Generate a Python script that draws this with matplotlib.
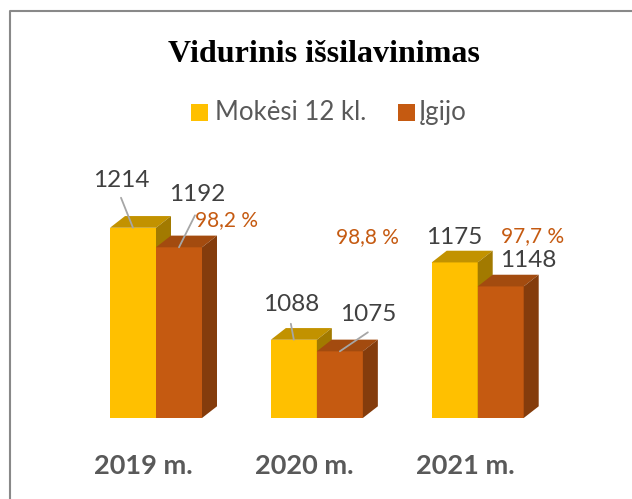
import matplotlib.pyplot as plt
from matplotlib.patches import Polygon, Rectangle
from matplotlib.lines import Line2D
import numpy as np

########### DATA ###########
years = ["2019 m.", "2020 m.", "2021 m."]
baigusieji = [1214, 1088, 1175]   # Mokėsi 12 kl.
igijo = [1192, 1075, 1148]        # Įgijo
series_names = ["Mokėsi 12 kl.", "Įgijo"]
############################

FONT = "Lato"
YELLOW = ("#FFC000", "#C29200", "#A27A00")   # front, top, side
ORANGE = ("#C55A11", "#A34B0F", "#843C0C")
VAL_COLOR = "#404040"
PCT_COLOR = "#C55A11"
GREY = "#595959"

W_PX, H_PX = 632, 499
fig = plt.figure(figsize=(W_PX / 100, H_PX / 100), dpi=100)

# axes placement (pixels) and scales
PX_CAT, X0_PX = 160.85, 156.0     # pixels per category, pixel of category 0
PX_VAL, Y0_PX = 0.889, 418.0      # pixels per unit, pixel of the floor
YMIN = 1000
ax_l, ax_r, ax_t = 20, 620, 80
ax = fig.add_axes([ax_l / W_PX, (H_PX - Y0_PX) / H_PX,
                   (ax_r - ax_l) / W_PX, (Y0_PX - ax_t) / H_PX])
ax.set_xlim((ax_l - X0_PX) / PX_CAT, (ax_r - X0_PX) / PX_CAT)
ax.set_ylim(YMIN, YMIN + (Y0_PX - ax_t) / PX_VAL)
ax.axis("off")

x = np.arange(len(years))
w = 46 / PX_CAT
dx = 15 / PX_CAT
dy = 11.7 / PX_VAL


def draw_box(xc, v, cols):
    x0, x1 = xc - w / 2, xc + w / 2
    ax.bar(xc, v - YMIN, width=w, bottom=YMIN, color=cols[0], zorder=2)
    ax.add_patch(Polygon([(x0, v), (x1, v), (x1 + dx, v + dy), (x0 + dx, v + dy)],
                         closed=True, fc=cols[1], ec="none", zorder=2))
    ax.add_patch(Polygon([(x1, YMIN), (x1, v), (x1 + dx, v + dy), (x1 + dx, YMIN + dy)],
                         closed=True, fc=cols[2], ec="none", zorder=2))


for i in range(len(years)):
    draw_box(x[i] - w / 2, baigusieji[i], YELLOW)
    draw_box(x[i] + w / 2, igijo[i], ORANGE)

# label offsets in pixels (x, baseline above bar top)
off_a = [(-12, 40.5), (-3, 28.6), (0, 18.7)]
off_b = [(18, 46), (28, 30), (28, 19)]
off_p = [(48, 21), (28, 108.7), (32, 44.3)]
lead_a = [(-12, 30), (-3, 16), None]
lead_b = [(16, 32), (28, 19), None]

for i in range(len(years)):
    xa, xb = x[i] - w / 2, x[i] + w / 2
    ax.annotate(str(baigusieji[i]), (xa, baigusieji[i]), xytext=off_a[i],
                textcoords="offset pixels", ha="center", va="baseline",
                fontsize=17.5, family=FONT, color=VAL_COLOR)
    ax.annotate(str(igijo[i]), (xb, igijo[i]), xytext=off_b[i],
                textcoords="offset pixels", ha="center", va="baseline",
                fontsize=17.5, family=FONT, color=VAL_COLOR)
    pct = f"{igijo[i] / baigusieji[i] * 100:.1f} %".replace(".", ",")
    ax.annotate(pct, (xb, igijo[i]), xytext=off_p[i],
                textcoords="offset pixels", ha="center", va="baseline",
                fontsize=15, family=FONT, color=PCT_COLOR)
    for xx, vv, ld in ((xa, baigusieji[i], lead_a[i]), (xb, igijo[i], lead_b[i])):
        if ld is None:
            continue
        ax.annotate("", (xx, vv), xytext=ld, textcoords="offset pixels",
                    arrowprops=dict(arrowstyle="-", color="#A6A6A6", lw=1.3,
                                    shrinkA=0, shrinkB=0), zorder=3)
    ax.annotate(years[i], (x[i], YMIN), xytext=(-12.5, -56),
                textcoords="offset pixels", ha="center", va="baseline",
                fontsize=19.5, family=FONT, weight="bold", color=GREY)

# title
fig.text(324 / W_PX, 1 - 61.7 / H_PX, "Vidurinis išsilavinimas", ha="center",
         va="baseline", fontsize=23, family="Liberation Serif", weight="bold",
         color="black")

# legend
leg = [(190.7, YELLOW[0], 215), (398.3, ORANGE[0], 419)]
for (sx, col, tx), name in zip(leg, series_names):
    fig.patches.append(Rectangle((sx / W_PX, 1 - 120.7 / H_PX), 17 / W_PX, 17 / H_PX,
                                 transform=fig.transFigure, fc=col, ec="none"))
    fig.text(tx / W_PX, 1 - 120 / H_PX, name, ha="left", va="baseline",
             fontsize=18.5, family=FONT, color=GREY)

# chart border (cut off at right and bottom)
fig.lines.append(Line2D([10.5 / W_PX, 10.5 / W_PX, 1.0], [0.0, 1 - 10.5 / H_PX, 1 - 10.5 / H_PX],
                        transform=fig.transFigure, color="#898989", lw=1.5))

fig.savefig("out.png", dpi=100)
